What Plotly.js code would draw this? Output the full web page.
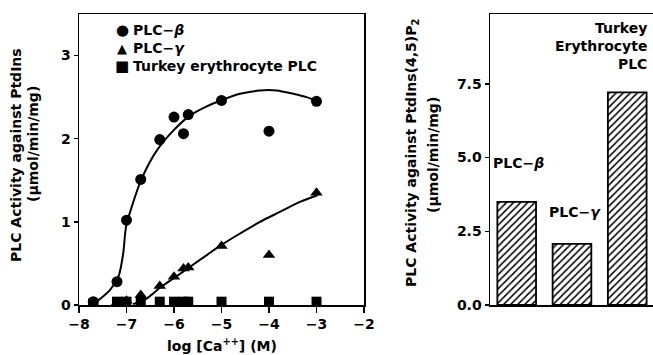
<!DOCTYPE html>
<html>
<head>
<meta charset="utf-8">
<script src="https://cdn.plot.ly/plotly-3.0.1.min.js"></script>
<style>html,body{margin:0;padding:0;background:#fff;}#chart{width:653px;height:355px;}</style>
</head>
<body>
<div id="chart"></div>
<script>
// ---- Left panel: activity vs log [Ca++] ----
const logCa = [-7.7, -7.2, -7.0, -6.7, -6.3, -6.0, -5.8, -5.7, -5.0, -4.0, -3.0];
const plcBeta = [0.04, 0.28, 1.02, 1.51, 1.99, 2.26, 2.06, 2.29, 2.46, 2.09, 2.45];
const plcGamma = [0.02, 0.03, 0.05, 0.12, 0.23, 0.34, 0.44, 0.45, 0.71, 0.60, 1.35];
const turkeyPts = [0.02, 0.04, 0.04, 0.04, 0.04, 0.04, 0.04, 0.04, 0.04, 0.04, 0.04];

// fitted curves
const betaFitX = [-7.63, -7.35, -7.17, -7.07, -7.01, -6.89, -6.68, -6.36, -6.01, -5.66, -5.31, -5.01, -4.61, -4.19, -3.84, -3.49, -3.21, -2.98];
const betaFitY = [0.04, 0.18, 0.34, 0.62, 0.94, 1.18, 1.52, 1.86, 2.10, 2.28, 2.39, 2.46, 2.54, 2.58, 2.58, 2.54, 2.50, 2.45];
const gammaFitX = [-6.86, -6.57, -6.27, -5.96, -5.66, -5.31, -5.01, -4.61, -4.19, -3.77, -3.35, -2.98];
const gammaFitY = [0.01, 0.08, 0.22, 0.34, 0.46, 0.60, 0.72, 0.86, 1.00, 1.12, 1.24, 1.32];

const xTicks = [-8, -7, -6, -5, -4, -3, -2];
const xTickText = ['\u22128', '\u22127', '\u22126', '\u22125', '\u22124', '\u22123', '\u22122'];
const yTicks = [0, 1, 2, 3];

// legend entries (drawn as text)
const legendSymbols = ['\u25CF', '\u25B2', '\u25A0'];
const legendLabels = ['PLC\u2212<i>\u03b2</i>', 'PLC\u2212<i>\u03b3</i>', 'Turkey erythrocyte PLC'];

// ---- Right panel: activity against PtdIns(4,5)P2 ----
const enzymes = ['PLC-\u03b2', 'PLC-\u03b3', 'Turkey Erythrocyte PLC'];
const pip2Activity = [3.50, 2.07, 7.21];
const y2Ticks = [0, 2.5, 5.0, 7.5];

const FONT = '"DejaVu Sans", "Liberation Sans", Arial, sans-serif';
const BOLD = {family: FONT, size: 14, color: '#000', weight: 700};

const traces = [
  {x: betaFitX, y: betaFitY, mode: 'lines', line: {color: '#000', width: 2, shape: 'spline', smoothing: 0.8}, showlegend: false, hoverinfo: 'skip', xaxis: 'x', yaxis: 'y'},
  {x: gammaFitX, y: gammaFitY, mode: 'lines', line: {color: '#000', width: 2, shape: 'spline', smoothing: 0.8}, showlegend: false, hoverinfo: 'skip', xaxis: 'x', yaxis: 'y'},
  {x: logCa, y: plcBeta, mode: 'markers', name: legendLabels[0], showlegend: false, marker: {symbol: 'circle', size: 11, color: '#000'}, xaxis: 'x', yaxis: 'y'},
  {x: logCa, y: plcGamma, mode: 'markers', name: legendLabels[1], showlegend: false, marker: {symbol: 'triangle-up', size: 11, color: '#000'}, xaxis: 'x', yaxis: 'y'},
  {x: logCa, y: turkeyPts, mode: 'markers', name: legendLabels[2], showlegend: false, marker: {symbol: 'square', size: 10, color: '#000'}, xaxis: 'x', yaxis: 'y'},
  {x: enzymes, y: pip2Activity, type: 'bar', width: 0.70, showlegend: false, xaxis: 'x2', yaxis: 'y2',
   marker: {color: '#fff', line: {color: '#000', width: 1.8}, pattern: {shape: '/', fgcolor: '#000', bgcolor: '#fff', size: 5, solidity: 0.3}}}
];

const W = 653, H = 355;
const px = v => v / W;
const py = v => (H - v) / H;

const ann = (text, x, y, extra) => Object.assign({text: text, x: px(x), y: py(y), xref: 'paper', yref: 'paper', showarrow: false, font: BOLD, xanchor: 'center', yanchor: 'middle'}, extra || {});

const legendRowsY = [30, 48, 66];
const legendAnns = [];
legendSymbols.forEach((s, i) => {
  legendAnns.push(ann(s, 122, legendRowsY[i], {font: {family: FONT, size: i === 1 ? 13 : 15, color: '#000'}}));
  legendAnns.push(ann(legendLabels[i], 131, legendRowsY[i], {xanchor: 'left'}));
});

const yDom = [py(305), py(14)];
const tickStyle = {tickwidth: 1.5, tickcolor: '#000', ticklen: 4};

const layout = {
  width: W, height: H,
  margin: {l: 0, r: 0, t: 0, b: 0},
  paper_bgcolor: '#fff', plot_bgcolor: 'rgba(0,0,0,0)',
  font: BOLD,
  showlegend: false,
  xaxis: {domain: [px(79), px(364)], range: [-8, -2], tickvals: xTicks, ticktext: xTickText, ticks: 'outside', ticklen: 6, tickwidth: 1.5, tickcolor: '#000',
          showline: true, linecolor: '#000', linewidth: 1.5, mirror: true, showgrid: false, zeroline: false, tickfont: BOLD, anchor: 'y'},
  yaxis: Object.assign({domain: yDom, range: [0, 3.5], tickvals: yTicks, ticks: 'outside',
          showline: true, linecolor: '#000', linewidth: 1.5, mirror: true, showgrid: false, zeroline: false, tickfont: BOLD, anchor: 'x'}, tickStyle),
  yaxis3: Object.assign({domain: yDom, range: [0, 3.5], tickvals: yTicks, ticks: 'inside', showticklabels: false,
          showline: false, showgrid: false, zeroline: false, overlaying: 'y', anchor: 'x', side: 'left'}, tickStyle),
  xaxis2: {domain: [px(490), 1], range: [-0.483, 2.466], type: 'category', showticklabels: false, ticks: '',
           showline: true, linecolor: '#000', linewidth: 1.5, mirror: true, showgrid: false, zeroline: false, anchor: 'y2'},
  yaxis2: Object.assign({domain: yDom, range: [0, 9.87], tickvals: y2Ticks, tickformat: '.1f', ticks: 'outside',
           showline: true, linecolor: '#000', linewidth: 1.5, mirror: false, showgrid: false, zeroline: false, tickfont: BOLD, anchor: 'x2'}, tickStyle),
  yaxis4: Object.assign({domain: yDom, range: [0, 9.87], tickvals: y2Ticks, ticks: 'inside', showticklabels: false,
           showline: false, showgrid: false, zeroline: false, overlaying: 'y2', anchor: 'x2', side: 'left'}, tickStyle),
  annotations: [
    ann('PLC Activity against PtdIns', 16, 155, {textangle: -90}),
    ann('(\u03bcmol/min/mg)', 33, 144, {textangle: -90}),
    ann('log [Ca<sup>++</sup>] (M)', 222, 345),
    ann('PLC Activity against PtdIns(4,5)P<sub>2</sub>', 412, 153, {textangle: -90}),
    ann('(\u03bcmol/min/mg)', 433, 155, {textangle: -90}),
    ann('PLC\u2212<i>\u03b2</i>', 518, 163),
    ann('PLC\u2212<i>\u03b3</i>', 575, 212),
    ann('Turkey<br>Erythrocyte<br>PLC', 649, 46, {xanchor: 'right', align: 'right'})
  ].concat(legendAnns)
};

Plotly.newPlot('chart', traces, layout, {displayModeBar: false, staticPlot: true});
</script>
</body>
</html>
